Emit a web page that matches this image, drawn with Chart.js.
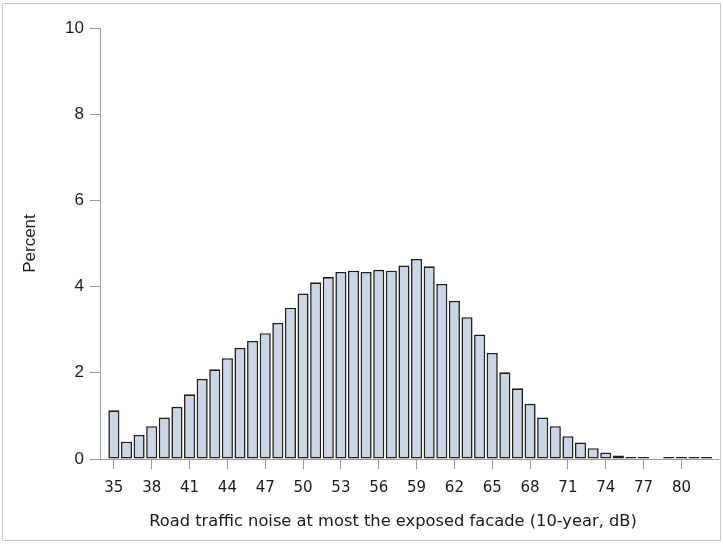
<!DOCTYPE html>
<html>
<head>
<meta charset="utf-8">
<script src="https://cdn.jsdelivr.net/npm/chart.js@4"></script>
<style>
  body { margin: 0; background: #fff; }
  canvas { display: block; }
</style>
</head>
<body>
<canvas id="histChart" width="723" height="546"></canvas>
<script>
    // Histogram bins (dB) and percent per bin (78 dB has no observations)
    const noiseBins = [35, 36, 37, 38, 39, 40, 41, 42, 43, 44, 45, 46, 47, 48, 49, 50,
      51, 52, 53, 54, 55, 56, 57, 58, 59, 60, 61, 62, 63, 64, 65, 66, 67, 68, 69, 70,
      71, 72, 73, 74, 75, 76, 77, 78, 79, 80, 81, 82];
    const percentValues = [1.13, 0.40, 0.56, 0.76, 0.96, 1.21, 1.50, 1.86, 2.08, 2.34, 2.58, 2.74, 2.92, 3.16, 3.51, 3.84,
      4.10, 4.22, 4.34, 4.37, 4.34, 4.39, 4.37, 4.49, 4.64, 4.47, 4.06, 3.67, 3.29, 2.89, 2.46, 2.01,
      1.64, 1.28, 0.96, 0.76, 0.53, 0.38, 0.25, 0.15, 0.08, 0.03, 0.03, null, 0.01, 0.01, 0.01, 0.01];
    const xTickLabels = [35, 38, 41, 44, 47, 50, 53, 56, 59, 62, 65, 68, 71, 74, 77, 80];
    const yTickLabels = [0, 2, 4, 6, 8, 10];
    const xTitle = 'Road traffic noise at most the exposed facade (10-year, dB)';

    // White background, thin outer frame, and the x axis title
    const framePlugin = {
      id: 'frame',
      beforeDraw(chart) {
        const ctx = chart.ctx;
        ctx.save();
        ctx.fillStyle = '#fff';
        ctx.fillRect(0, 0, chart.width, chart.height);
        ctx.strokeStyle = '#c8c8c8';
        ctx.lineWidth = 1;
        ctx.strokeRect(2.5, 3.5, 718, 537);
        ctx.restore();
      },
      afterDraw(chart) {
        const ctx = chart.ctx;
        const area = chart.chartArea;
        ctx.save();
        ctx.fillStyle = '#1a1a1a';
        ctx.font = '16.3px "DejaVu Sans"';
        ctx.textAlign = 'center';
        ctx.textBaseline = 'middle';
        ctx.fillText(xTitle, (area.left + area.right) / 2 - 16, 522);
        ctx.restore();
      }
    };

    const ctx = document.getElementById('histChart').getContext('2d');
    const chart = new Chart(ctx, {
      type: 'bar',
      data: {
        datasets: [{
          data: noiseBins.map((b, i) => ({ x: b, y: percentValues[i] })),
          backgroundColor: '#cad5e5',
          borderColor: '#1e1e1e',
          borderWidth: 1.6,
          borderSkipped: false,
          barPercentage: 0.88,
          categoryPercentage: 1.0,
          minBarLength: 2
        }]
      },
      plugins: [framePlugin],
      options: {
        responsive: false,
        animation: false,
        layout: {
          padding: { top: 28, right: 5, left: 0, bottom: 0 }
        },
        plugins: {
          legend: { display: false },
          tooltip: { enabled: false }
        },
        scales: {
          x: {
            type: 'linear',
            offset: false,
            min: 33.9,
            max: 82.9,
            afterBuildTicks: scale => {
              scale.ticks = xTickLabels.map(v => ({ value: v }));
            },
            afterFit: scale => { scale.height = 87; },
            grid: {
              offset: false,
              drawOnChartArea: false,
              tickLength: 10,
              color: '#9a9a9a'
            },
            border: { display: true, color: '#9a9a9a', width: 1 },
            ticks: {
              autoSkip: false,
              maxRotation: 0,
              padding: 10,
              color: '#1a1a1a',
              font: { family: 'DejaVu Sans', size: 15 },
              callback: v => String(v)
            }
          },
          y: {
            min: 0,
            max: 10,
            afterBuildTicks: scale => {
              scale.ticks = yTickLabels.map(v => ({ value: v }));
            },
            afterFit: scale => { scale.width = 100; },
            grid: {
              drawOnChartArea: false,
              tickLength: 10,
              color: '#9a9a9a'
            },
            border: { display: true, color: '#9a9a9a', width: 1 },
            ticks: {
              padding: 6,
              color: '#1a1a1a',
              font: { family: 'Liberation Sans', size: 17 }
            },
            title: {
              display: true,
              text: 'Percent',
              color: '#1a1a1a',
              font: { family: 'Liberation Sans', size: 17 },
              padding: { top: 20, bottom: 0 }
            }
          }
        }
      }
    });
</script>
</body>
</html>
